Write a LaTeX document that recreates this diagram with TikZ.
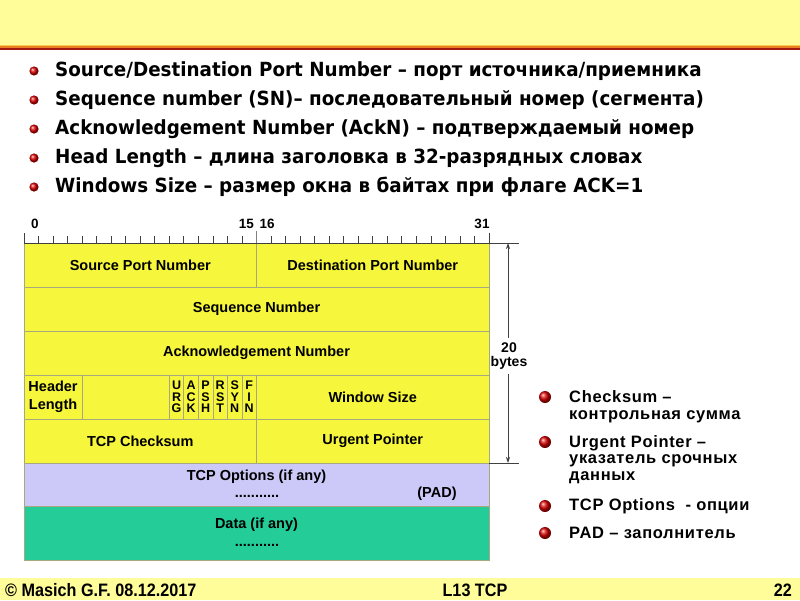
\documentclass[tikz,border=0pt]{standalone}
\usepackage{fontspec}
\setmainfont{Liberation Sans}
\newfontfamily\tahoma[FakeStretch=0.94]{DejaVu Sans}
\newfontfamily\arialsp[LetterSpace=4]{Liberation Sans}
\usetikzlibrary{arrows.meta}
\definecolor{hdr}{HTML}{FFFD99}
\definecolor{ylw}{HTML}{F6F63C}
\definecolor{lav}{HTML}{CCC8F8}
\definecolor{grn}{HTML}{24CC98}
\definecolor{brd}{HTML}{A8A880}
\definecolor{st1}{HTML}{F8C850}
\definecolor{st2}{HTML}{E88020}
\definecolor{st3}{HTML}{A01810}
\definecolor{rul}{HTML}{404040}
\begin{document}
\begin{tikzpicture}[x=1pt,y=-1pt,
  cell/.style={draw=brd, line width=0.8pt, inner sep=0pt, font=\fontsize{14.5}{16}\selectfont\bfseries, align=center},
  flagcell/.style={cell, fill=ylw, minimum width=14.53pt, minimum height=44pt, font=\fontsize{12.5}{11.4}\selectfont\bfseries},
  bul/.style={anchor=west, inner sep=0pt, font=\tahoma\fontsize{19.5}{21}\selectfont\bfseries},
  rbul/.style={anchor=west, inner sep=0pt, align=left, font=\arialsp\fontsize{16.5}{16.8}\selectfont\bfseries},
  ball/.style={shading=ball, ball color=red!85!black},
  ruler/.style={draw=rul, line width=0.7pt},
  lbl/.style={inner sep=0pt, font=\fontsize{14.5}{16}\selectfont\bfseries},
  dots/.style={lbl, text height=2pt, text depth=0pt},
  foot/.style={inner sep=0pt, font=\fontsize{18}{20}\selectfont\bfseries}
]
\path[use as bounding box] (0,0) rectangle (800,600);
% header band
\fill[hdr] (0,0) rectangle (800,44.7);
\fill[st1] (0,44.7) rectangle (800,46.3);
\fill[st2] (0,46.3) rectangle (800,48);
\fill[st3] (0,48) rectangle (800,49.7);
% footer band
\fill[hdr] (0,578) rectangle (800,600);

% top bullets
\foreach \yy in {71,100,129,158,187} \shade[ball] (34,\yy) circle (4.6);
\node[bul] (b1) at (55,71) {Source/Destination Port Number – порт источника/приемника};
\node[bul] (b2) at (55,100) {Sequence number (SN)– последовательный номер (сегмента)};
\node[bul] (b3) at (55,129) {Acknowledgement Number (AckN) – подтверждаемый номер};
\node[bul] (b4) at (55,158) {Head Length – длина заголовка в 32-разрядных словах};
\node[bul] (b5) at (55,187) {Windows Size – размер окна в байтах при флаге ACK=1};

% table rows
\node[cell, fill=ylw, minimum width=232.5pt, minimum height=44pt] (src) at (140.25,265) {Source Port Number};
\node[cell, fill=ylw, minimum width=232.5pt, minimum height=44pt] (dst) at (372.75,265) {Destination Port Number};
\node[cell, fill=ylw, minimum width=465pt, minimum height=44pt] (seq) at (256.5,309) {Sequence Number};
\node[cell, fill=ylw, minimum width=465pt, minimum height=44pt] (ack) at (256.5,353) {Acknowledgement Number};
\node[cell, fill=ylw, minimum width=58.125pt, minimum height=44pt, font=\fontsize{14.5}{17.5}\selectfont\bfseries] (hlen) at (53.06,397) {Header\\Length};
\node[cell, fill=ylw, minimum width=87.19pt, minimum height=44pt] (res) at (125.72,397) {};
\node[flagcell] (urg) at (176.58,397) {U\\R\\G};
\node[flagcell] (ackf) at (191.11,397) {A\\C\\K};
\node[flagcell] (psh) at (205.64,397) {P\\S\\H};
\node[flagcell] (rst) at (220.17,397) {R\\S\\T};
\node[flagcell] (syn) at (234.70,397) {S\\Y\\N};
\node[flagcell] (fin) at (249.23,397) {F\\I\\N};
\node[cell, fill=ylw, minimum width=232.5pt, minimum height=44pt] (win) at (372.75,397) {Window Size};
\node[cell, fill=ylw, minimum width=232.5pt, minimum height=44pt] (chk) at (140.25,441) {TCP Checksum};
\node[cell, fill=ylw, minimum width=232.5pt, minimum height=44pt] (urp) at (372.75,441) {Urgent Pointer};
\node[cell, fill=lav, minimum width=465pt, minimum height=43pt] (opt) at (256.5,484.5) {};
\node[cell, fill=grn, minimum width=465pt, minimum height=54.5pt] (data) at (256.5,533.25) {};
\node[lbl] (optt) at (256.5,476.5) {TCP Options (if any)};
\node[dots] (optd) at (257,496) {...........};
\node[lbl] (pad) at (437,494) {(PAD)};
\node[lbl] (datat) at (256.5,525) {Data (if any)};
\node[dots] (datad) at (257,545) {...........};

% ruler
\draw[ruler] (24,243) -- (519,243);
\foreach \i in {1,...,15,17,18,...,31} \draw[ruler] ({24+\i*14.53125},236) -- ({24+\i*14.53125},243);
\draw[ruler] (24,233) -- (24,243);
\draw[ruler] (489,233) -- (489,243);
\draw[draw=gray, line width=0.7pt] (256.5,231) -- (256.5,243);
\node[lbl, font=\fontsize{13.5}{15}\selectfont\bfseries] (l0) at (35,224) {0};
\node[lbl, anchor=east, font=\fontsize{13.5}{15}\selectfont\bfseries] (l15) at (254,224) {15};
\node[lbl, anchor=west, font=\fontsize{13.5}{15}\selectfont\bfseries] (l16) at (259.5,224) {16};
\node[lbl, font=\fontsize{13.5}{15}\selectfont\bfseries] (l31) at (482,224) {31};

% 20 bytes dimension
\coordinate (dt) at (508,243);
\coordinate (db) at (508,463);
\draw[ruler] (489,463) -- (519,463);
\draw[ruler, -{Stealth[length=6pt,width=4pt]}] (508,338) -- (dt);
\draw[ruler, -{Stealth[length=6pt,width=4pt]}] (508,374) -- (db);
\node[lbl, font=\fontsize{14}{14.5}\selectfont\bfseries, align=center] (twenty) at (509,356) {20\\bytes};

% right bullets
\foreach \yy in {397,442,506,533} \shade[ball] (545,\yy) circle (6);
\node[rbul] (r1) at (569,406.5) {Checksum –\\контрольная сумма};
\node[rbul] (r2) at (569,459.5) {Urgent Pointer –\\указатель срочных\\данных};
\node[rbul] (r3) at (569,506) {TCP Options\ \ - опции};
\node[rbul] (r4) at (569,533) {PAD – заполнитель};

% footer
\node[foot, anchor=west] (f1) at (5,590) {\scalebox{0.9}[1]{© Masich G.F. 08.12.2017}};
\node[foot] (f2) at (475,590) {\scalebox{0.9}[1]{L13 TCP}};
\node[foot, anchor=east] (f3) at (792,590) {\scalebox{0.9}[1]{22}};
\end{tikzpicture}
\end{document}
